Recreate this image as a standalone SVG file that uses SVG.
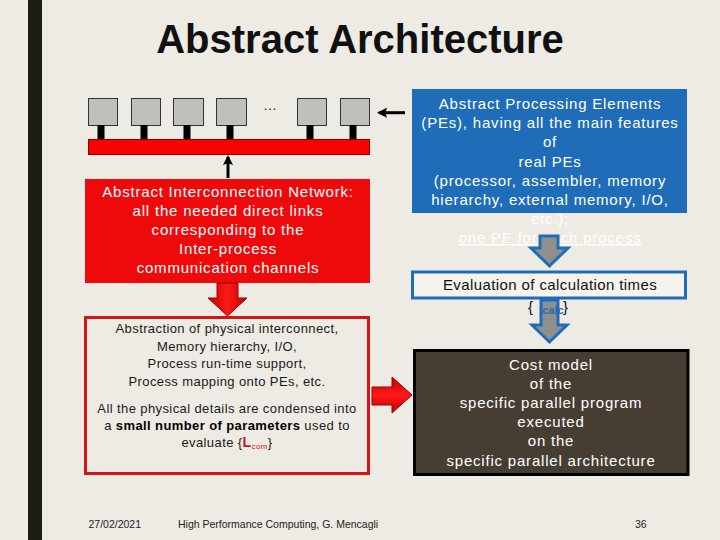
<svg xmlns="http://www.w3.org/2000/svg" width="720" height="540" viewBox="0 0 720 540">
<defs>
<style>
.t{font-family:"Liberation Sans",Arial,sans-serif}
.w15{font-size:15px;fill:#ffffff;letter-spacing:0.8px;text-anchor:middle}
.k13{font-size:13px;fill:#1a1a1a;letter-spacing:0.4px;text-anchor:middle}
.pe{fill:#bfbfbb;stroke:#333;stroke-width:1}
.stem{fill:#000}
.foot{font-size:10.5px;fill:#222}
</style>
<marker id="ah" viewBox="0 0 10 10" refX="8" refY="5" markerWidth="3.4" markerHeight="3.4" orient="auto">
<path d="M0,0 L10,5 L0,10 L2,5 Z" fill="#000"/>
</marker>
<linearGradient id="rg" x1="0" y1="0" x2="1" y2="0">
<stop offset="0" stop-color="#c00000"/>
<stop offset="0.5" stop-color="#ff1a1a"/>
<stop offset="1" stop-color="#c00000"/>
</linearGradient>
<linearGradient id="rg2" x1="0" y1="0" x2="0" y2="1">
<stop offset="0" stop-color="#c00000"/>
<stop offset="0.5" stop-color="#ff1a1a"/>
<stop offset="1" stop-color="#c00000"/>
</linearGradient>
</defs>
<rect x="0" y="0" width="720" height="540" fill="#eeebe4"/>
<rect x="28" y="0" width="14" height="540" fill="#1c1c10"/>
<text class="t" x="360" y="53" font-size="40" font-weight="bold" fill="#111" text-anchor="middle">Abstract Architecture</text>

<g id="pes">
<rect class="pe" x="88.5" y="98.5" width="29" height="27"/>
<rect class="pe" x="131.5" y="98.5" width="29" height="27"/>
<rect class="pe" x="173.5" y="98.5" width="30" height="27"/>
<rect class="pe" x="216.5" y="98.5" width="30" height="27"/>
<rect class="pe" x="297.5" y="98.5" width="29" height="27"/>
<rect class="pe" x="340.5" y="98.5" width="29" height="27"/>
<rect class="stem" x="97.5" y="125" width="7" height="14"/>
<rect class="stem" x="140.5" y="125" width="7" height="14"/>
<rect class="stem" x="183.5" y="125" width="7" height="14"/>
<rect class="stem" x="226.5" y="125" width="7" height="14"/>
<rect class="stem" x="306.5" y="125" width="7" height="14"/>
<rect class="stem" x="349.5" y="125" width="7" height="14"/>
<text class="t" x="270" y="110" font-size="14" fill="#222" text-anchor="middle">…</text>
</g>
<g id="bus">
<rect x="88.5" y="139.5" width="281" height="15" fill="#ff0000" stroke="#8a0000" stroke-width="1"/>
</g>

<g id="network">
<rect x="85" y="179" width="285" height="104" fill="#ee0a0a"/>
<text class="t w15" x="228" y="197">Abstract Interconnection Network:</text>
<text class="t w15" x="228" y="216">all the needed direct links</text>
<text class="t w15" x="228" y="235">corresponding to the</text>
<text class="t w15" x="228" y="254">Inter-process</text>
<text class="t w15" x="228" y="273">communication channels</text>
</g>

<g id="abstraction">
<rect x="85.5" y="317.5" width="283" height="156" fill="#eeebe4" stroke="#d41515" stroke-width="3"/>
<text class="t k13" x="227" y="333">Abstraction of physical interconnect,</text>
<text class="t k13" x="227" y="350.5">Memory hierarchy, I/O,</text>
<text class="t k13" x="227" y="368">Process run-time support,</text>
<text class="t k13" x="227" y="385.5">Process mapping onto PEs, etc.</text>
<text class="t k13" x="227" y="412.5">All the physical details are condensed into</text>
<text class="t k13" x="227" y="429.5">a <tspan font-weight="bold" fill="#000">small number of parameters</tspan> used to</text>
<text class="t k13" x="227" y="446.5">evaluate {<tspan font-weight="bold" fill="#d41515" font-size="14">L</tspan><tspan font-size="8" fill="#d41515" dy="2">com</tspan><tspan dy="-2">}</tspan></text>
</g>

<g id="pe-desc">
<rect x="412" y="89" width="275" height="124" fill="#1f6db8"/>
<text class="t w15" x="550" y="109">Abstract Processing Elements</text>
<text class="t w15" x="550" y="128.2">(PEs), having all the main features</text>
<text class="t w15" x="550" y="147.4">of</text>
<text class="t w15" x="550" y="166.6">real PEs</text>
<text class="t w15" x="550" y="185.8">(processor, assembler, memory</text>
<text class="t w15" x="550" y="205">hierarchy, external memory, I/O,</text>
<text class="t w15" x="550" y="224.2">etc.);</text>
<text class="t w15" x="550" y="243" text-decoration="underline">one PE for each process</text>
</g>

<g id="evaluation">
<rect x="412.5" y="272" width="273" height="26" fill="#f4f3ee" stroke="#1f6db8" stroke-width="3"/>
<text class="t" x="550" y="290" font-size="15" fill="#111" letter-spacing="0.4" text-anchor="middle">Evaluation of calculation times</text>
<text class="t" x="528" y="312" font-size="15" fill="#111">{</text>
<text class="t" x="563" y="312" font-size="15" fill="#111">}</text>
</g>

<g id="cost">
<rect x="414.5" y="350.5" width="273.5" height="124" fill="#463e33" stroke="#000" stroke-width="3"/>
<text class="t w15" x="551" y="369.6">Cost model</text>
<text class="t w15" x="551" y="388.8">of the</text>
<text class="t w15" x="551" y="408">specific parallel program</text>
<text class="t w15" x="551" y="427.2">executed</text>
<text class="t w15" x="551" y="446.4">on the</text>
<text class="t w15" x="551" y="465.6">specific parallel architecture</text>
</g>

<g id="connectors">
<line x1="405" y1="112.7" x2="379" y2="112.7" stroke="#000" stroke-width="3" marker-end="url(#ah)"/>
<line x1="228" y1="178" x2="228" y2="157" stroke="#000" stroke-width="3" marker-end="url(#ah)"/>
<polygon points="217,283 238,283 238,298 247,298 227.5,316 208,298 217,298" fill="url(#rg)" stroke="#a00000" stroke-width="1"/>
<polygon points="372,387 392,387 392,377 412,395 392,413 392,405 372,405" fill="url(#rg2)" stroke="#a00000" stroke-width="1"/>
<polygon points="540,236 558,236 558,248 568,248 549.5,266 531,248 540,248" fill="#8f8f8c" stroke="#1f6db8" stroke-width="3" stroke-linejoin="miter"/>
<polygon points="541,300 558,300 558,325 567,325 549.5,342 532,325 541,325" fill="#8f8f8c" stroke="#1f6db8" stroke-width="3" stroke-linejoin="miter"/>
<text class="t" x="553" y="314" font-size="11" font-weight="bold" fill="#1f6db8" text-anchor="middle">calc</text>
</g>

<g id="footer">
<text class="t foot" x="88.5" y="528">27/02/2021</text>
<text class="t foot" x="178" y="528">High Performance Computing, G. Mencagli</text>
<text class="t foot" x="635" y="528">36</text>
</g>
</svg>
